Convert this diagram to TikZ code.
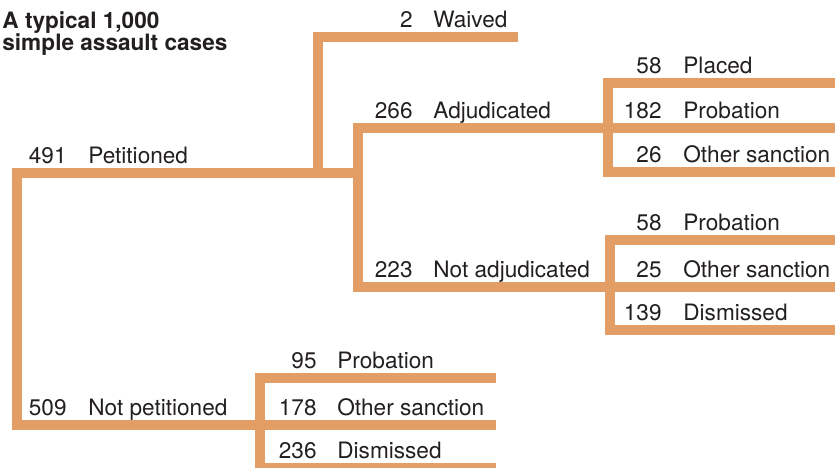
\documentclass[tikz,border=0pt]{standalone}
\usepackage{fontspec}
\setmainfont{TeX Gyre Heros}
\definecolor{branchorange}{RGB}{227,158,102}
\definecolor{inkgray}{RGB}{35,31,32}
\tikzset{
  branch/.style={line width=5pt, draw=branchorange, line join=miter},
  count/.style={anchor=base east, inner sep=0pt, text=inkgray, font=\fontsize{11.3}{13}\selectfont},
  outcome/.style={anchor=base west, inner sep=0pt, text=inkgray, font=\fontsize{11.3}{13}\selectfont},
  heading/.style={outcome, font=\bfseries\fontsize{11.3}{13}\selectfont},
}
\begin{document}
\begin{tikzpicture}[x=0.5pt,y=-0.5pt]

  \clip (0,0) rectangle (835,467);

  %Title
  \node[heading] (titleA) at (2,28) {A typical 1,000};
  \node[heading] (titleB) at (2,50) {simple assault cases};

  %Forks
  \coordinate (root) at (17,173);
  \coordinate (rootLow) at (17,425);
  \coordinate (waiveFork) at (318,173);
  \coordinate (adjFork) at (358,173);
  \coordinate (adjTop) at (358,128);
  \coordinate (adjLow) at (358,287);
  \coordinate (npFork) at (260,425);

  %First split: petitioned / not petitioned
  \draw[branch] (adjFork) -- (root) -- (rootLow) -- (npFork);

  %Waived
  \draw[branch] (waiveFork) -- (318,37) -- (518,37);

  %Adjudicated / not adjudicated
  \draw[branch] (835,128) -- (adjTop) -- (adjLow) -- (835,287);

  %Adjudicated outcomes
  \draw[branch] (835,83) -- (608,83) -- (608,172) -- (835,172);

  %Not adjudicated outcomes
  \draw[branch] (835,240) -- (610,240) -- (610,330) -- (835,330);

  %Not petitioned outcomes
  \draw[branch] (496,378) -- (260,378) -- (260,468) -- (496,468);
  \draw[branch] (npFork) -- (496,425);

  %Labels
  \node[count] (petN) at (67,163) {491};
  \node[outcome] (petT) at (88,163) {Petitioned};
  \node[count] (npN) at (67,415) {509};
  \node[outcome] (npT) at (88,415) {Not petitioned};

  \node[count] (waiveN) at (413,27) {2};
  \node[outcome] (waiveT) at (433,27) {Waived};
  \node[count] (adjN) at (413,118) {266};
  \node[outcome] (adjT) at (433,118) {Adjudicated};
  \node[count] (nadjN) at (413,277) {223};
  \node[outcome] (nadjT) at (433,277) {Not adjudicated};

  \node[count] (placeN) at (662,73) {58};
  \node[outcome] (placeT) at (683,73) {Placed};
  \node[count] (aprobN) at (662,118) {182};
  \node[outcome] (aprobT) at (683,118) {Probation};
  \node[count] (aothN) at (662,162) {26};
  \node[outcome] (aothT) at (683,162) {Other sanction};

  \node[count] (nprobN) at (662,230) {58};
  \node[outcome] (nprobT) at (683,230) {Probation};
  \node[count] (nothN) at (662,277) {25};
  \node[outcome] (nothT) at (683,277) {Other sanction};
  \node[count] (ndisN) at (662,320) {139};
  \node[outcome] (ndisT) at (683,320) {Dismissed};

  \node[count] (pprobN) at (317,368) {95};
  \node[outcome] (pprobT) at (337,368) {Probation};
  \node[count] (pothN) at (317,415) {178};
  \node[outcome] (pothT) at (337,415) {Other sanction};
  \node[count] (pdisN) at (317,458) {236};
  \node[outcome] (pdisT) at (337,458) {Dismissed};

\end{tikzpicture}
\end{document}
